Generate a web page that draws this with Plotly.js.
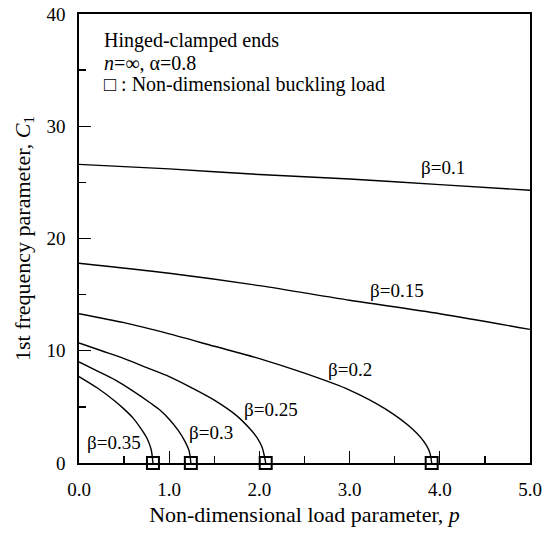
<!DOCTYPE html>
<html>
<head>
<meta charset="utf-8">
<script src="https://cdn.plot.ly/plotly-3.0.1.min.js"></script>
<style>html,body{margin:0;padding:0;background:#fff;}#chart{width:555px;height:533px;}</style>
</head>
<body>
<div id="chart"></div>
<script>
// Curves: beta = 0.1 ... 0.35 (x = load parameter p, y = C1)
var p_b010 = [0, 1, 2, 3, 4, 5];
var c_b010 = [26.6, 26.2, 25.7, 25.3, 24.8, 24.3];
var p_b015 = [0, 1, 2, 3, 4, 5];
var c_b015 = [17.8, 16.9, 15.8, 14.5, 13.3, 11.9];
var p_b020 = [0, 0.5, 1, 1.5, 2, 2.5, 3, 3.4, 3.7, 3.85, 3.89, 3.91];
var c_b020 = [13.3, 12.5, 11.5, 10.4, 9.3, 8.0, 6.5, 4.8, 3.0, 1.6, 0.9, 0];
var p_b025 = [0, 0.25, 0.5, 0.75, 1, 1.25, 1.5, 1.75, 1.9, 1.97, 2.03, 2.07];
var c_b025 = [10.7, 10.0, 9.3, 8.5, 7.7, 6.7, 5.6, 4.2, 3.0, 2.3, 1.4, 0];
var p_b030 = [0, 0.2, 0.4, 0.6, 0.8, 0.9, 1.0, 1.1, 1.17, 1.22, 1.24];
var c_b030 = [9.0, 8.2, 7.4, 6.4, 5.3, 4.7, 3.9, 2.9, 2.0, 1.1, 0];
var p_b035 = [0, 0.2, 0.4, 0.5, 0.6, 0.7, 0.76, 0.8, 0.82];
var c_b035 = [7.7, 6.7, 5.5, 4.8, 4.0, 2.9, 2.1, 1.2, 0];

// Non-dimensional buckling loads
var buckling_p = [0.82, 1.24, 2.07, 3.91];
var buckling_c = [0, 0, 0, 0];

// Curve labels
var label_text = ["β=0.1", "β=0.15", "β=0.2", "β=0.25", "β=0.3", "β=0.35"];
var label_p = [4.03, 3.53, 3.0, 2.13, 1.46, 0.39];
var label_c = [26.3, 15.4, 8.3, 4.8, 2.7, 1.8];

var FONT = 'Liberation Serif, Times New Roman, serif';

var curves = [[p_b010, c_b010], [p_b015, c_b015], [p_b020, c_b020],
              [p_b025, c_b025], [p_b030, c_b030], [p_b035, c_b035]];
var data = curves.map(function (c) {
  return {x: c[0], y: c[1], mode: 'lines', type: 'scatter',
          line: {color: '#000', width: 1.4, shape: 'spline', smoothing: 0.8},
          showlegend: false, hoverinfo: 'skip'};
});
data.push({x: buckling_p, y: buckling_c, mode: 'markers', type: 'scatter',
           marker: {symbol: 'square-open', size: 12, color: '#000', line: {color: '#000', width: 2}},
           cliponaxis: false, showlegend: false});

var annotations = label_text.map(function (t, i) {
  return {x: label_p[i], y: label_c[i], xref: 'x', yref: 'y', text: t, showarrow: false,
          xanchor: 'center', yanchor: 'middle', font: {family: FONT, size: 19, color: '#000'}};
});
var info = ["Hinged-clamped ends", "<i>n</i>=∞, α=0.8", "□ : Non-dimensional buckling load"];
var info_c = [37.6, 35.6, 33.7];
info.forEach(function (t, i) {
  annotations.push({x: 0.25, y: info_c[i], xref: 'x', yref: 'y', text: t, showarrow: false,
                    xanchor: 'left', yanchor: 'middle', font: {family: FONT, size: 20, color: '#000'}});
});

var layout = {
  width: 555, height: 533,
  margin: {l: 79, r: 25, t: 14, b: 70},
  paper_bgcolor: '#fff', plot_bgcolor: '#fff',
  font: {family: FONT, color: '#000', size: 18},
  showlegend: false,
  xaxis: {
    range: [0, 5], dtick: 1, tick0: 0, tickformat: '.1f',
    ticks: 'inside', ticklen: 12, tickwidth: 1.3, tickcolor: '#000',
    minor: {dtick: 0.5, ticks: 'inside', ticklen: 7, tickwidth: 1.3, tickcolor: '#000', showgrid: false},
    showline: true, linecolor: '#000', linewidth: 1.8, mirror: true,
    showgrid: false, zeroline: false,
    ticklabelstandoff: 8,
    tickfont: {family: FONT, size: 19, color: '#000'},
    title: {text: 'Non-dimensional load parameter, <i>p</i>', font: {family: FONT, size: 22, color: '#000'}, standoff: 8}
  },
  yaxis: {
    range: [0, 40], dtick: 10, tick0: 0,
    ticks: 'inside', ticklen: 12, tickwidth: 1.3, tickcolor: '#000',
    minor: {dtick: 5, ticks: 'inside', ticklen: 7, tickwidth: 1.3, tickcolor: '#000', showgrid: false},
    showline: true, linecolor: '#000', linewidth: 1.8, mirror: true,
    showgrid: false, zeroline: false,
    ticklabelstandoff: 8,
    tickfont: {family: FONT, size: 19, color: '#000'},
    title: {text: '1st frequency parameter, <i>C</i><sub>1</sub>', font: {family: FONT, size: 22, color: '#000'}, standoff: 10}
  },
  annotations: annotations
};

Plotly.newPlot('chart', data, layout, {staticPlot: true, displayModeBar: false});
</script>
</body>
</html>
